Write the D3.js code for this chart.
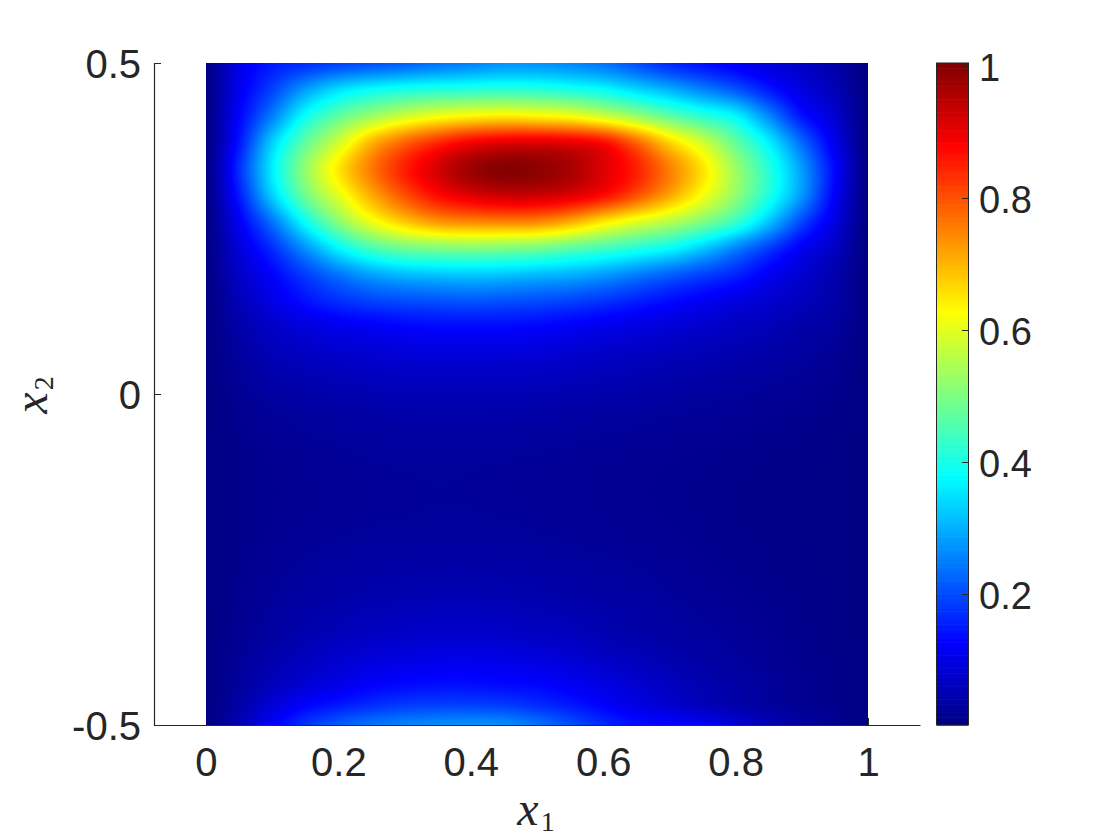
<!DOCTYPE html>
<html><head><meta charset="utf-8">
<script src="https://d3js.org/d3.v7.min.js"></script>
<style>html,body{margin:0;padding:0;background:#fff}svg{display:block}text{font-family:"Liberation Sans",Arial,sans-serif;fill:#262626}</style>
</head><body><div id="chart"></div>
<script>
const x1Samples = [0,.05,.1,.15,.2,.25,.3,.35,.4,.45,.5,.55,.6,.65,.7,.75,.8,.85,.9,.95,1];
const x2Samples = [.5,.46,.42,.38,.34,.3,.26,.22,.18,.14,.1,.05,-.02,-.1,-.2,-.3,-.36,-.4,-.44,-.47,-.5];
const fieldValues = [
[.005,.10,.15,.17,.19,.205,.22,.24,.255,.27,.27,.26,.24,.205,.165,.14,.115,.09,.07,.04,.005],
[.005,.11,.19,.28,.345,.38,.40,.41,.415,.42,.415,.40,.38,.34,.30,.255,.21,.15,.095,.055,.005],
[.005,.125,.25,.385,.47,.53,.58,.615,.635,.645,.635,.62,.58,.53,.47,.42,.37,.26,.145,.08,.005],
[.005,.145,.33,.47,.58,.70,.78,.84,.885,.905,.91,.90,.87,.78,.67,.58,.475,.365,.23,.105,.005],
[.005,.17,.36,.52,.65,.76,.85,.92,.975,1.0,.99,.965,.91,.85,.755,.655,.53,.415,.28,.13,.005],
[.005,.15,.33,.485,.60,.71,.80,.87,.91,.93,.93,.91,.87,.80,.715,.62,.52,.405,.275,.12,.005],
[.005,.115,.24,.385,.51,.61,.68,.73,.745,.75,.745,.71,.65,.60,.555,.50,.43,.32,.195,.095,.005],
[.005,.09,.17,.27,.37,.445,.485,.50,.505,.50,.49,.465,.44,.41,.38,.325,.255,.185,.115,.065,.005],
[.005,.07,.125,.185,.24,.285,.31,.32,.325,.32,.31,.30,.28,.25,.22,.19,.16,.115,.08,.045,.005],
[.005,.055,.10,.14,.17,.19,.20,.205,.21,.205,.20,.19,.175,.155,.135,.115,.095,.08,.06,.04,.005],
[.005,.04,.07,.09,.105,.115,.125,.13,.13,.13,.125,.115,.105,.095,.085,.075,.065,.055,.04,.03,.005],
[.005,.03,.05,.06,.07,.075,.08,.082,.082,.08,.078,.072,.066,.06,.054,.048,.042,.036,.03,.02,.005],
[.004,.018,.028,.034,.038,.042,.045,.046,.046,.045,.043,.04,.037,.034,.03,.027,.024,.02,.016,.012,.004],
[.004,.012,.018,.022,.025,.027,.028,.029,.028,.027,.026,.024,.022,.02,.018,.016,.014,.012,.01,.008,.004],
[.004,.012,.018,.022,.025,.027,.028,.029,.029,.028,.026,.024,.022,.02,.018,.015,.013,.011,.009,.007,.004],
[.005,.016,.026,.034,.04,.045,.048,.05,.05,.048,.045,.04,.036,.032,.027,.022,.018,.014,.011,.008,.004],
[.005,.02,.034,.046,.056,.065,.07,.075,.075,.072,.066,.06,.05,.043,.036,.03,.024,.018,.013,.009,.004],
[.005,.025,.045,.062,.078,.09,.098,.104,.105,.10,.095,.085,.07,.058,.047,.037,.029,.022,.015,.01,.004],
[.005,.03,.06,.085,.105,.125,.135,.14,.14,.135,.13,.115,.10,.082,.065,.05,.038,.028,.018,.012,.004],
[.005,.04,.085,.125,.15,.17,.185,.19,.19,.185,.17,.15,.125,.10,.08,.06,.045,.03,.02,.013,.004],
[.005,.05,.12,.175,.215,.24,.255,.265,.27,.265,.24,.205,.165,.14,.13,.115,.085,.055,.035,.02,.004]
];
const xTicks = [0,.2,.4,.6,.8,1];
const yTicks = [-.5,0,.5];
const yTickLabels = ["-0.5","0","0.5"];
const barTicks = [.2,.4,.6,.8,1];
const colorDomain = [.0015,1.0045];
const jetStops = [0,.125,.375,.625,.875,1];
const jetColors = ["#000080","#0000ff","#00ffff","#ffff00","#ff0000","#800000"];

const W=1120,H=840, FS=40, INK="#262626";
const x=d3.scaleLinear().domain([-0.0785,1.0785]).range([154,920]);
const y=d3.scaleLinear().domain([-.5,.5]).range([725,63]);
const cbY=d3.scaleLinear().domain(colorDomain).range([725,63]);
const color=d3.scaleLinear()
  .domain(jetStops.map(t=>colorDomain[0]+t*(colorDomain[1]-colorDomain[0])))
  .range(jetColors).interpolate(d3.interpolateRgb).clamp(true);
const svg=d3.select("#chart").append("svg").attr("width",W).attr("height",H);

// axes sit under the image, as in the original
const gx=svg.append("g").attr("transform","translate(0,725)")
  .call(d3.axisBottom(x).tickValues(xTicks).tickSizeInner(-7).tickSizeOuter(0).tickPadding(23).tickFormat(d=>String(+d)));
const gy=svg.append("g").attr("transform","translate(154,0)")
  .call(d3.axisLeft(y).tickValues(yTicks).tickSizeInner(-7).tickSizeOuter(0).tickPadding(13).tickFormat((d,i)=>yTickLabels[i]));
for(const g of [gx,gy]){
  g.select(".domain").attr("stroke",INK).attr("stroke-width",1.2);
  g.selectAll(".tick line").attr("stroke",INK).attr("stroke-width",1);
  g.selectAll("text").attr("font-size",FS).attr("font-family",'"Liberation Sans",Arial,sans-serif').attr("fill",INK);
}
gy.selectAll("text").attr("dy","0.36em");

// value-space bicubic resampling of the grid
function cr(a,b,c,d,t){return b+.5*t*(c-a+t*(2*a-5*b+4*c-d+t*(3*(b-c)+d-a)));}
const colIdx=d3.scaleLinear().domain(d3.extent(x1Samples)).range([0,x1Samples.length-1]);
const rowIdx=d3.scaleLinear().domain(x2Samples).range(x2Samples.map((_,i)=>i));
const nr=x2Samples.length,nc=x1Samples.length;
const at=(r,c)=>fieldValues[Math.max(0,Math.min(nr-1,r))][Math.max(0,Math.min(nc-1,c))];
function sample(a,b){
  const cf=colIdx(a), rf=rowIdx(b), c0=Math.min(nc-2,Math.floor(cf)), r0=Math.min(nr-2,Math.floor(rf));
  const tc=cf-c0,tr=rf-r0, row=[];
  for(let k=-1;k<=2;k++) row.push(cr(at(r0+k,c0-1),at(r0+k,c0),at(r0+k,c0+1),at(r0+k,c0+2),tc));
  return cr(row[0],row[1],row[2],row[3],tr);
}
const px0=Math.round(x(0)),px1=Math.round(x(1)),py0=Math.round(y(.5)),py1=Math.round(y(-.5));
const cv=document.createElement("canvas");cv.width=px1-px0;cv.height=py1-py0;
const ctx=cv.getContext("2d"),img=ctx.createImageData(cv.width,cv.height);
for(let j=0;j<cv.height;j++)for(let i=0;i<cv.width;i++){
  const v=sample(x.invert(px0+i+.5),y.invert(py0+j+.5));
  const cc=d3.rgb(color(v)),o=4*(j*cv.width+i);
  img.data[o]=cc.r;img.data[o+1]=cc.g;img.data[o+2]=cc.b;img.data[o+3]=255;
}
ctx.putImageData(img,0,0);
svg.append("image").attr("x",px0).attr("y",py0).attr("width",cv.width).attr("height",cv.height)
  .attr("href",cv.toDataURL());

// colour bar
const cbx=[937,968];
const levels=d3.range(256).map(i=>colorDomain[0]+(i+.5)/256*(colorDomain[1]-colorDomain[0]));
const step=(colorDomain[1]-colorDomain[0])/256;
svg.append("g").selectAll("rect").data(levels).join("rect")
  .attr("x",cbx[0]).attr("width",cbx[1]-cbx[0])
  .attr("y",d=>cbY(d+step/2)).attr("height",d=>cbY(d-step/2)-cbY(d+step/2)+.6)
  .attr("fill",d=>color(d));
svg.append("rect").attr("x",cbx[0]-.5).attr("y",63).attr("width",cbx[1]-cbx[0]+1).attr("height",662)
  .attr("fill","none").attr("stroke",INK).attr("stroke-width",1);
const gb=svg.append("g").attr("transform",`translate(${cbx[1]},0)`)
  .call(d3.axisRight(cbY).tickValues(barTicks).tickSize(-6).tickPadding(11).tickFormat(d=>String(+d)));
gb.select(".domain").remove();
gb.selectAll(".tick line").attr("stroke",INK).attr("stroke-width",1);
gb.selectAll("text").attr("font-size",38).attr("dy","0.39em").attr("font-family",'"Liberation Sans",Arial,sans-serif').attr("fill",INK);

// math axis titles
function mathLabel(g,sub){
  const t=g.append("text").attr("text-anchor","middle")
    .style("font-family",'"Liberation Serif","DejaVu Serif",serif');
  t.append("tspan").attr("font-style","italic").attr("font-size",48).text("x");
  t.append("tspan").attr("font-size",28).attr("dx",2).attr("dy",6).text(sub);
}
mathLabel(svg.append("g").attr("transform","translate(536,825)"),"1");
mathLabel(svg.append("g").attr("transform","translate(47,395) rotate(-90)"),"2");
</script></body></html>
